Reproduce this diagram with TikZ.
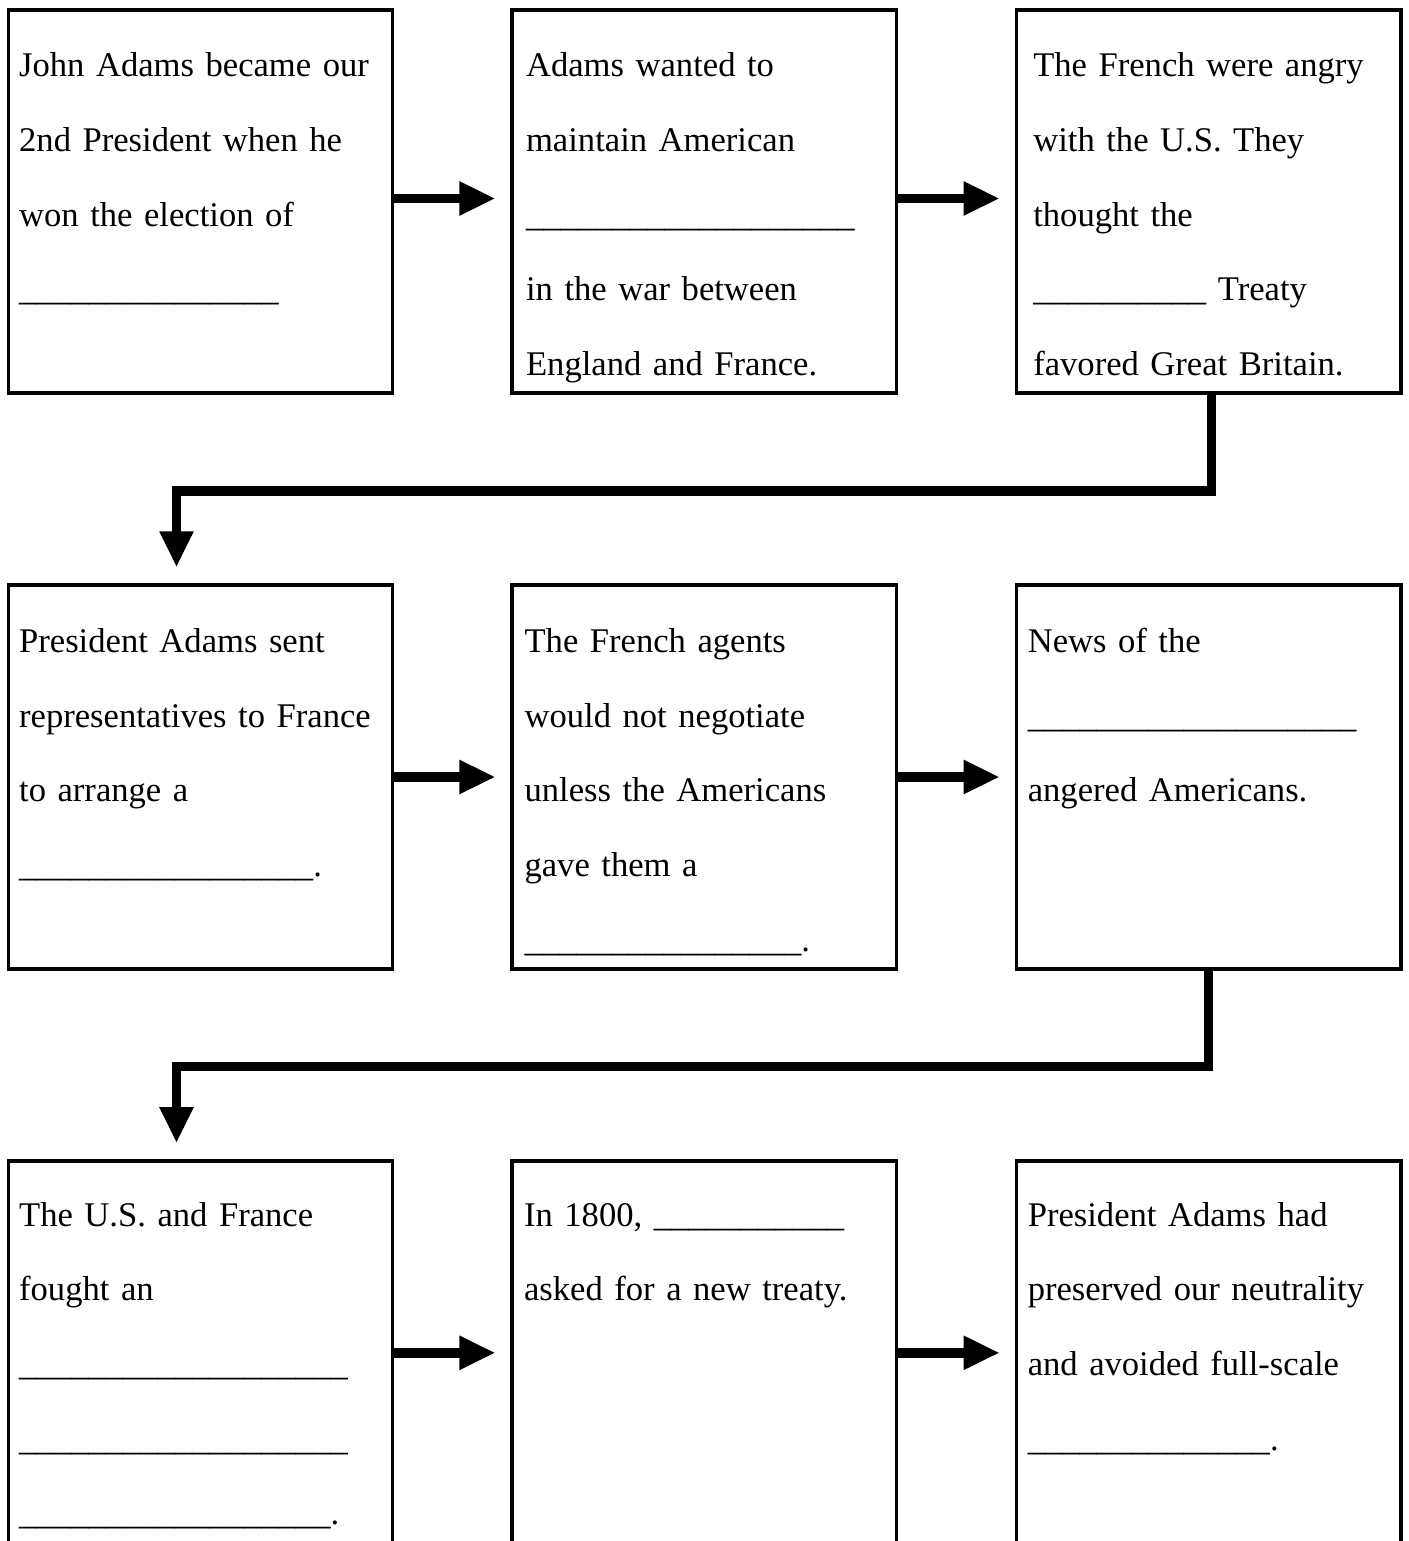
\documentclass[tikz,border=0pt]{standalone}
\usepackage{fontspec}
\setmainfont{Liberation Serif}
\usetikzlibrary{calc,arrows.meta}

\newcommand{\boxfont}{\fontsize{12pt}{25.9pt}\selectfont}
\newcommand{\blank}[1]{\foreach \n in {1,...,#1}{\_}}

\tikzset{
  box/.style={draw, line width=1.3pt, minimum width=133.2pt, minimum height=133pt, inner sep=0pt},
  txt/.style={anchor=base west, inner sep=0pt, text width=132pt, font=\boxfont},
  flow/.style={line width=3.3pt, -{Triangle[length=12.5pt,width=11pt]}},
}

\begin{document}
\begin{tikzpicture}[x=0.3468pt,y=-0.3468pt]
\useasboundingbox (0,0) rectangle (1408,1541);
\clip (0,0) rectangle (1408,1541);

% boxes
\node[box] (b1) at (200.5,201.5) {};
\node[box] (b2) at (704.4,201.5) {};
\node[box] (b3) at (1208.6,201.5) {};
\node[box] (b4) at (200.5,777) {};
\node[box] (b5) at (704.4,777) {};
\node[box] (b6) at (1208.6,777) {};
\node[box] (b7) at (200.5,1352.8) {};
\node[box] (b8) at (704.4,1352.8) {};
\node[box] (b9) at (1208.6,1352.8) {};

% texts
\node[txt] (t1) at ($(b1.north west)+(12,69)$) {John Adams became our\\2nd President when he\\won the election of\\\blank{15}};
\node[txt] (t2) at ($(b2.north west)+(15,69)$) {Adams wanted to\\maintain American\\\blank{19}\\in the war between\\England and France.};
\node[txt] (t3) at ($(b3.north west)+(18,69)$) {The French were angry\\with the U.S. They\\thought the\\\blank{10} Treaty\\favored Great Britain.};
\node[txt] (t4) at ($(b4.north west)+(12,69)$) {President Adams sent\\representatives to France\\to arrange a\\\blank{17}.};
\node[txt] (t5) at ($(b5.north west)+(13.5,69)$) {The French agents\\would not negotiate\\unless the Americans\\gave them a\\\blank{16}.};
\node[txt] (t6) at ($(b6.north west)+(12.5,69)$) {News of the\\\blank{19}\\angered Americans.};
\node[txt] (t7) at ($(b7.north west)+(12,67)$) {The U.S. and France\\fought an\\\blank{19}\\\blank{19}\\\blank{18}.};
\node[txt] (t8) at ($(b8.north west)+(13,67)$) {In 1800, \blank{11}\\asked for a new treaty.};
\node[txt] (t9) at ($(b9.north west)+(12.5,67)$) {President Adams had\\preserved our neutrality\\and avoided full-scale\\\blank{14}.};

% arrows
\draw[flow, shorten >=5.2pt] ($(b1.east)+(0,-3)$) -- ($(b2.west)+(0,-3)$);
\draw[flow, shorten >=5.2pt] ($(b2.east)+(0,-3)$) -- ($(b3.west)+(0,-3)$);
\draw[flow] ($(b3.south)+(3,0)$) -- ++(0,96) -| ($(b4.north)+(-24,-16)$);
\draw[flow, shorten >=5.2pt] (b4.east) -- (b5.west);
\draw[flow, shorten >=5.2pt] (b5.east) -- (b6.west);
\draw[flow] (b6.south) -- ++(0,96) -| ($(b7.north)+(-24,-16)$);
\draw[flow, shorten >=5.2pt] (b7.east) -- (b8.west);
\draw[flow, shorten >=5.2pt] (b8.east) -- (b9.west);

\end{tikzpicture}
\end{document}
